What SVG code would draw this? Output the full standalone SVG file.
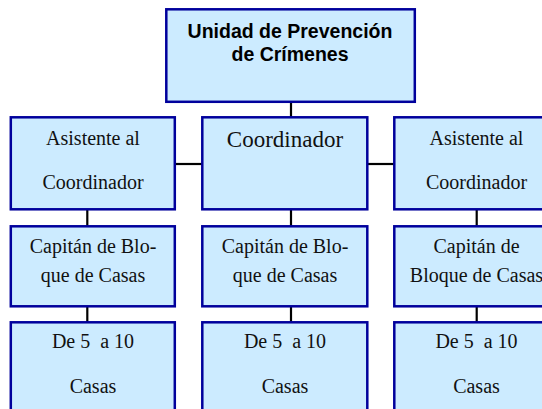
<svg xmlns="http://www.w3.org/2000/svg" width="542" height="409" viewBox="0 0 542 409">
<style>
.box{fill:#CCEBFF;stroke:#00009C;stroke-width:2.5}
.t{font-family:"Liberation Serif","Times New Roman",serif;font-size:20px;fill:#111;text-anchor:middle;white-space:pre}
.h{font-family:"Liberation Sans",Arial,sans-serif;font-size:19.5px;font-weight:bold;fill:#000;text-anchor:middle}
.c{stroke:#000;stroke-width:2.2;fill:none}
</style>
<rect width="542" height="409" fill="#fff"/>
<g id="connectors">
<line class="c" x1="291" y1="102" x2="291" y2="117"/>
<line class="c" x1="175" y1="164" x2="202" y2="164"/>
<line class="c" x1="367" y1="164" x2="394" y2="164"/>
<line class="c" x1="87.3" y1="209" x2="87.3" y2="226"/>
<line class="c" x1="87.3" y1="306" x2="87.3" y2="322"/>
<line class="c" x1="291" y1="209" x2="291" y2="226"/>
<line class="c" x1="291" y1="306" x2="291" y2="322"/>
<line class="c" x1="476.7" y1="209" x2="476.7" y2="226"/>
<line class="c" x1="476.7" y1="306" x2="476.7" y2="322"/>
</g>
<g id="unidad">
<rect class="box" x="166.3" y="9.3" width="248.5" height="92.5"/>
<text class="h" x="290" y="38">Unidad de Prevención</text>
<text class="h" x="290" y="61">de Crímenes</text>
</g>
<g id="asistente1">
<rect class="box" x="10.8" y="117.3" width="164" height="92"/>
<text class="t" x="93" y="145">Asistente al</text>
<text class="t" x="93" y="189">Coordinador</text>
</g>
<g id="coordinador">
<rect class="box" x="202.3" y="117.3" width="165" height="92"/>
<text class="t" x="285" y="147" style="font-size:23px">Coordinador</text>
</g>
<g id="asistente2">
<rect class="box" x="394.3" y="117.3" width="165" height="92"/>
<text class="t" x="476.5" y="145">Asistente al</text>
<text class="t" x="476.5" y="189">Coordinador</text>
</g>
<g id="capitan1">
<rect class="box" x="10.8" y="226.3" width="164" height="80"/>
<text class="t" x="93" y="253">Capitán de Blo-</text>
<text class="t" x="93" y="282">que de Casas</text>
</g>
<g id="capitan2">
<rect class="box" x="202.3" y="226.3" width="165" height="80"/>
<text class="t" x="285" y="253">Capitán de Blo-</text>
<text class="t" x="285" y="282">que de Casas</text>
</g>
<g id="capitan3">
<rect class="box" x="394.3" y="226.3" width="165" height="80"/>
<text class="t" x="476.5" y="253">Capitán de</text>
<text class="t" x="476.5" y="282">Bloque de Casas</text>
</g>
<g id="casas1">
<rect class="box" x="10.8" y="322.3" width="164" height="100"/>
<text class="t" x="93" y="348">De 5  a 10</text>
<text class="t" x="93" y="393">Casas</text>
</g>
<g id="casas2">
<rect class="box" x="202.3" y="322.3" width="165" height="100"/>
<text class="t" x="285" y="348">De 5  a 10</text>
<text class="t" x="285" y="393">Casas</text>
</g>
<g id="casas3">
<rect class="box" x="394.3" y="322.3" width="165" height="100"/>
<text class="t" x="476.5" y="348">De 5  a 10</text>
<text class="t" x="476.5" y="393">Casas</text>
</g>
</svg>
